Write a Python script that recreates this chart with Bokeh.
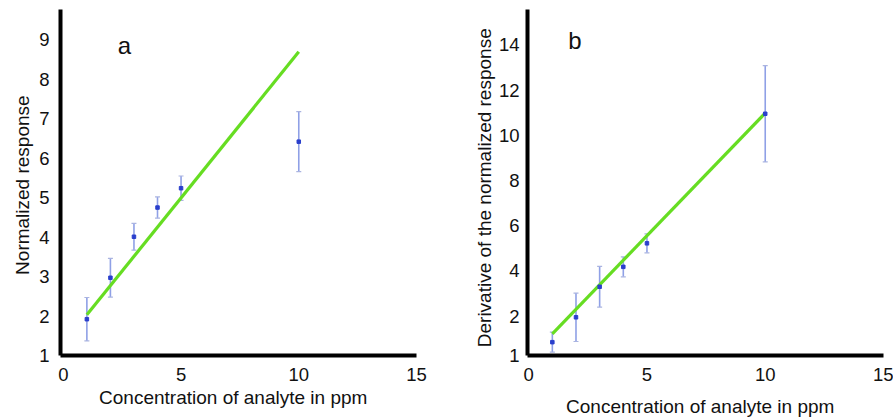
from bokeh.plotting import figure
from bokeh.layouts import row
from bokeh.models import ColumnDataSource, Whisker, FixedTicker, CustomJSTickFormatter, Label, TeeHead
from bokeh.embed import file_html
from bokeh.resources import INLINE

# ---- data ----
conc = [1, 2, 3, 4, 5, 10]

# panel a: normalized response
resp_a = [1.92, 2.97, 4.01, 4.75, 5.24, 6.42]
err_a = [0.55, 0.49, 0.34, 0.27, 0.31, 0.76]
fit_a_x = [1, 10]
fit_a_y = [2.03, 8.70]

# panel b: derivative of the normalized response
resp_b = [0.85, 1.95, 3.30, 4.18, 5.22, 10.95]
err_b = [0.44, 1.07, 0.90, 0.44, 0.42, 2.13]
fit_b_x = [1, 10]
fit_b_y = [1.22, 10.98]

x_ticks = [0, 5, 10, 15]
a_ticks = [1, 2, 3, 4, 5, 6, 7, 8, 9]
b_ticks = [0.26, 2, 4, 6, 8, 10, 12, 14]

FONT = "Liberation Sans"
ERR_COLOR = "#8fa0e6"
PT_COLOR = "#2a3fcc"
FIT_COLOR = "#66dd22"


def make_panel(yvals, errs, fitx, fity, xr, yr, yticks, ylabel, letter, letter_xy,
               frame_w, border_left, border_right, ylab_standoff, xlab_standoff,
               ytick_standoff, formatter=None):
    src = ColumnDataSource(dict(
        x=conc, y=yvals,
        lo=[v - e for v, e in zip(yvals, errs)],
        hi=[v + e for v, e in zip(yvals, errs)],
    ))
    p = figure(frame_width=frame_w, frame_height=346,
               output_backend="svg", toolbar_location=None,
               x_range=xr, y_range=yr,
               min_border_left=border_left, min_border_right=border_right,
               min_border_top=9, min_border_bottom=58)
    p.outline_line_color = None
    p.xgrid.visible = False
    p.ygrid.visible = False
    p.background_fill_color = "white"
    p.border_fill_color = "white"

    p.line(fitx, fity, line_color=FIT_COLOR, line_width=3.2)
    w = Whisker(source=src, base="x", lower="lo", upper="hi", dimension="height",
                line_color=ERR_COLOR, line_width=1.6,
                upper_head=TeeHead(size=5, line_color="#aab4e0", line_width=1.2),
                lower_head=TeeHead(size=5, line_color="#aab4e0", line_width=1.2))
    p.add_layout(w)
    p.scatter("x", "y", source=src, marker="square", size=3.5,
              fill_color=PT_COLOR, line_color=PT_COLOR)

    for ax in (p.xaxis[0], p.yaxis[0]):
        ax.axis_line_width = 4
        ax.axis_line_color = "black"
        ax.major_tick_line_color = None
        ax.minor_tick_line_color = None
        ax.major_label_text_font = FONT
        ax.major_label_text_font_size = "18.5px"
        ax.major_label_text_color = "#111111"
        ax.axis_label_text_font = FONT
        ax.axis_label_text_font_size = "19px"
        ax.axis_label_text_font_style = "normal"
        ax.axis_label_text_color = "#111111"

    p.xaxis.ticker = FixedTicker(ticks=x_ticks)
    p.yaxis.ticker = FixedTicker(ticks=yticks)
    if formatter is not None:
        p.yaxis.formatter = formatter
    p.xaxis.major_label_standoff = 6
    p.yaxis.major_label_standoff = ytick_standoff
    p.xaxis.axis_label = "Concentration  of analyte  in ppm"
    p.yaxis.axis_label = ylabel
    p.xaxis.axis_label_standoff = xlab_standoff
    p.yaxis.axis_label_standoff = ylab_standoff

    p.add_layout(Label(x=letter_xy[0], y=letter_xy[1], text=letter,
                       text_font=FONT, text_font_size="24px",
                       text_align="center", text_baseline="middle",
                       text_color="#111111"))
    return p


pa = make_panel(resp_a, err_a, fit_a_x, fit_a_y, (-0.12, 15), (1, 9.77), a_ticks,
                "Normalized  response", "a", (2.6, 8.85),
                frame_w=356, border_left=60, border_right=40,
                ylab_standoff=3, xlab_standoff=3, ytick_standoff=5)

fmt_b = CustomJSTickFormatter(code="return tick < 1 ? '1' : tick.toFixed(0);")
pb = make_panel(resp_b, err_b, fit_b_x, fit_b_y, (-0.05, 15), (0.26, 15.56), b_ticks,
                "Derivative  of the normalized  response", "b", (1.95, 14.2),
                frame_w=356, border_left=71, border_right=10,
                ylab_standoff=1, xlab_standoff=12, ytick_standoff=2,
                formatter=fmt_b)

layout = row(pa, pb, spacing=0)
open("out.html", "w").write(file_html(layout, INLINE))
